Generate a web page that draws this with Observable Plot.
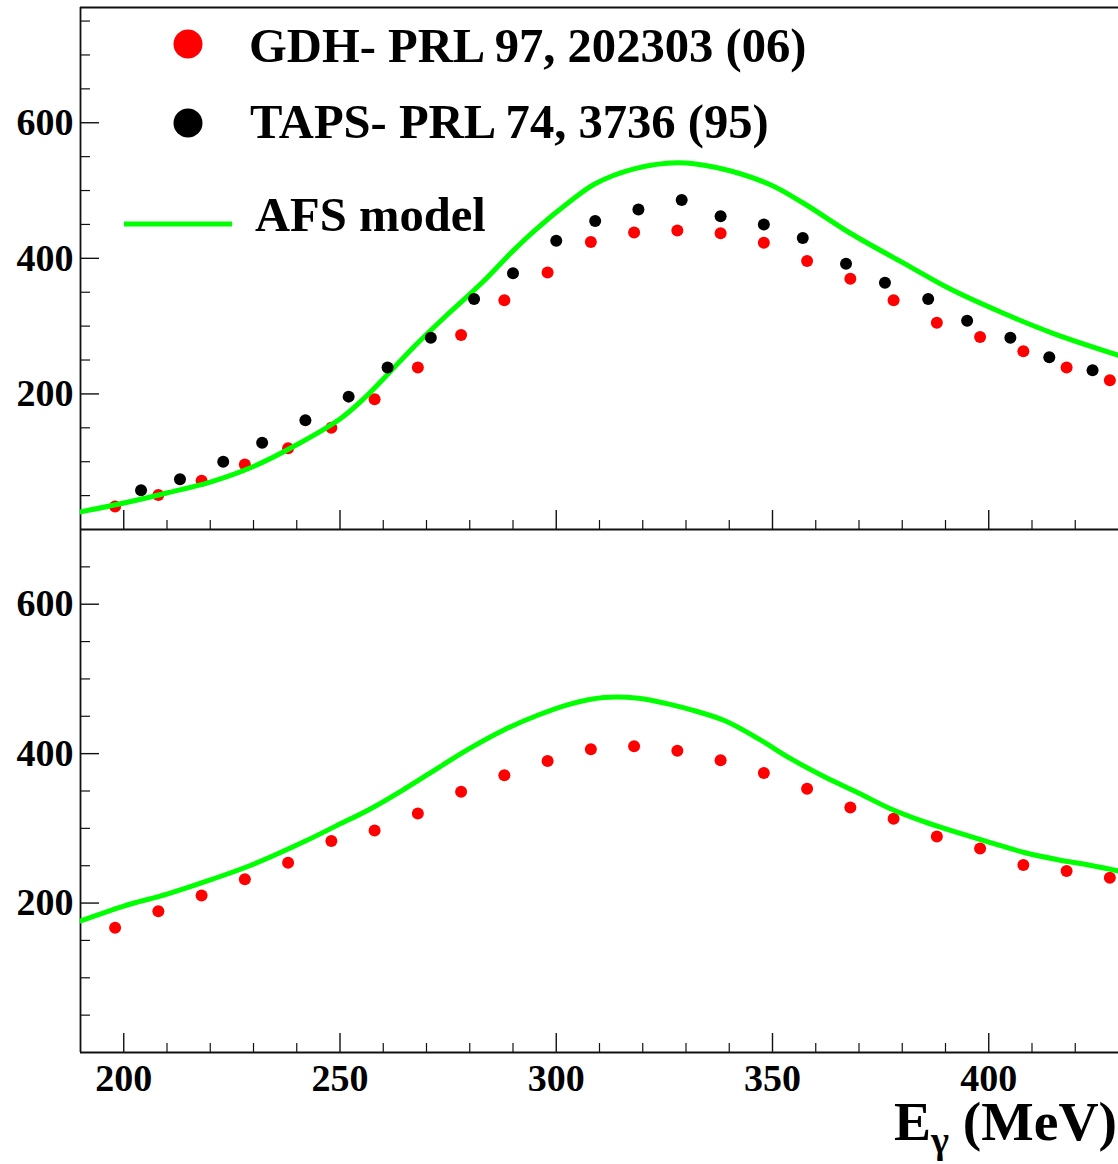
<!DOCTYPE html>
<html><head><meta charset="utf-8">
<script src="https://cdn.jsdelivr.net/npm/d3@7"></script>
<script src="https://cdn.jsdelivr.net/npm/@observablehq/plot@0.6"></script>
<style>
body{margin:0;background:#fff;}
#chart{position:relative;width:1118px;height:1164px;overflow:hidden;background:#fff;}
#chart svg{position:absolute;left:0;}
</style></head><body><div id="chart"></div>
<script>
// ---- data ----
const gdhTopE = [198,208,218,228,238,248,258,268,278,288,298,308,318,328,338,348,358,368,378,388,398,408,418,428];
const gdhTopV = [34,51,72,96,120,150,192,239,287,338,379,424,438,441,437,423,396,370,338,305,284,263,239,220];
const tapsE = [204,213,223,232,242,252,261,271,281,290,300,309,319,329,338,348,357,367,376,386,395,405,414,424];
const tapsV = [58,74,100,128,161,196,239,283,340,378,426,455,472,486,462,450,430,392,364,340,308,283,254,235];
const afsTopE = [190,200,210,220,230,240,250,255,260,267,275,283,290,295,303,309,318,328,337,349,357,368,380,391,403,415,430];
const afsTopV = [26,39,54,70,93,125,163,190,222,269,318,365,411,441,483,510,532,541,534,510,482,437,394,355,320,289,257];
const gdhBotE = [198,208,218,228,238,248,258,268,278,288,298,308,318,328,338,348,358,368,378,388,398,408,418,428];
const gdhBotV = [167,189,210,232,254,283,297,320,349,371,390,406,410,404,391,374,353,328,313,289,273,251,243,234];
const afsBotE = [190,200,210,220,230,242,249,257,265,273,280,288,296,303,311,319,327,331,339,347,354,362,370,377,385,393,401,408,416,424,430];
const afsBotV = [176,196,212,231,252,283,303,326,353,382,407,432,452,466,475,474,465,459,444,419,394,369,347,327,309,294,280,268,258,250,243];

const xTickLabels = [200,250,300,350,400];
const xMinorTicks = [210,220,230,240,260,270,280,290,310,320,330,340,360,370,380,390,410,420];
const yTickLabels = [200,400,600];
const yMinorTop = [50,100,150,250,300,350,450,500,550,650,700,750];
const yMinorBottom = [50,100,150,250,300,350,450,500,550,650];

const legendLabels = ["GDH- PRL 97, 202303 (06)", "TAPS- PRL 74, 3736 (95)", "AFS model"];

const rows = (E, V) => E.map((e, i) => ({e, v: V[i]}));
const FONT = '"Liberation Serif", "Times New Roman", Times, serif';
const INK = "#111";

function panel({height, marginTop, marginBottom, yMax, yMinor, layers, xLabels}) {
  const innerH = height - marginTop - marginBottom;
  const innerW = 1118 - 80;
  const marks = [
    Plot.ruleX([190], {stroke: INK, strokeWidth: 1.8}),
    Plot.ruleY([0], {stroke: INK, strokeWidth: 1.8}),
    Plot.tickX(xTickLabels, {x: d => d, insetTop: innerH - 19, stroke: INK, strokeWidth: 1.4}),
    Plot.tickX(xMinorTicks, {x: d => d, insetTop: innerH - 9, stroke: INK, strokeWidth: 1.2}),
    Plot.tickY(yTickLabels, {y: d => d, insetRight: innerW - 19, stroke: INK, strokeWidth: 1.4}),
    Plot.tickY(yMinor, {y: d => d, insetRight: innerW - 10, stroke: INK, strokeWidth: 1.2}),
    Plot.axisY(yTickLabels, {tickSize: 0, tickPadding: 7, fontSize: 38, fontWeight: "bold", fill: "#000", label: null}),
    ...layers
  ];
  if (xLabels) marks.push(Plot.axisX(xTickLabels, {tickSize: 0, tickPadding: 12, fontSize: 38, fontWeight: "bold", fill: "#000", label: null}));
  return Plot.plot({
    width: 1118, height, marginLeft: 80, marginRight: 0, marginTop, marginBottom,
    x: {domain: [190, 430], label: null, axis: xLabels ? undefined : null},
    y: {domain: [0, yMax], label: null},
    style: {fontFamily: FONT, fontWeight: "bold", fontSize: "38px", background: "transparent", overflow: "visible", color: "#000"},
    marks
  });
}

const topSvg = panel({
  height: 529, marginTop: 7, marginBottom: 0, yMax: 770, yMinor: yMinorTop, xLabels: false,
  layers: [
    Plot.ruleY([770], {stroke: INK, strokeWidth: 1.8}),
    Plot.dot(rows(gdhTopE, gdhTopV), {x: "e", y: "v", r: 6, fill: "#ff0000"}),
    Plot.line(rows(afsTopE, afsTopV), {x: "e", y: "v", stroke: "#00ff00", strokeWidth: 5, curve: "catmull-rom", clip: true}),
    Plot.dot(rows(tapsE, tapsV), {x: "e", y: "v", r: 6, fill: "#000"})
  ]
});
const bottomSvg = panel({
  height: 635, marginTop: 0, marginBottom: 112, yMax: 700, yMinor: yMinorBottom, xLabels: true,
  layers: [
    Plot.dot(rows(gdhBotE, gdhBotV), {x: "e", y: "v", r: 6, fill: "#ff0000"}),
    Plot.line(rows(afsBotE, afsBotV), {x: "e", y: "v", stroke: "#00ff00", strokeWidth: 5, curve: "catmull-rom", clip: true})
  ]
});
topSvg.style.top = "0px";
bottomSvg.style.top = "529px";
const chart = document.getElementById("chart");
chart.appendChild(topSvg);
chart.appendChild(bottomSvg);

// legend
const lg = d3.select(topSvg).append("g")
  .attr("font-family", FONT).attr("font-weight", "bold").attr("font-size", 48.6).attr("fill", "#000")
  .attr("text-anchor", "start");
lg.append("circle").attr("cx", 188).attr("cy", 44).attr("r", 14.5).attr("fill", "#ff0000");
lg.append("circle").attr("cx", 188).attr("cy", 123).attr("r", 14.5).attr("fill", "#000");
lg.append("line").attr("x1", 124).attr("x2", 232).attr("y1", 224).attr("y2", 224)
  .attr("stroke", "#00ff00").attr("stroke-width", 5);
lg.append("text").attr("x", 249).attr("y", 62).text(legendLabels[0]);
lg.append("text").attr("x", 250).attr("y", 138).text(legendLabels[1]);
lg.append("text").attr("x", 255).attr("y", 231).text(legendLabels[2]);

// x axis title
const t = d3.select(bottomSvg).append("text")
  .attr("x", 894).attr("y", 611).attr("text-anchor", "start")
  .attr("font-family", FONT).attr("font-weight", "bold").attr("font-size", 55).attr("fill", "#000")
  .attr("textLength", 223).attr("lengthAdjust", "spacingAndGlyphs");
t.append("tspan").text("E");
t.append("tspan").attr("font-size", 38).attr("dy", 13).text("γ");
t.append("tspan").attr("dy", -13).text(" (MeV)");
</script></body></html>
